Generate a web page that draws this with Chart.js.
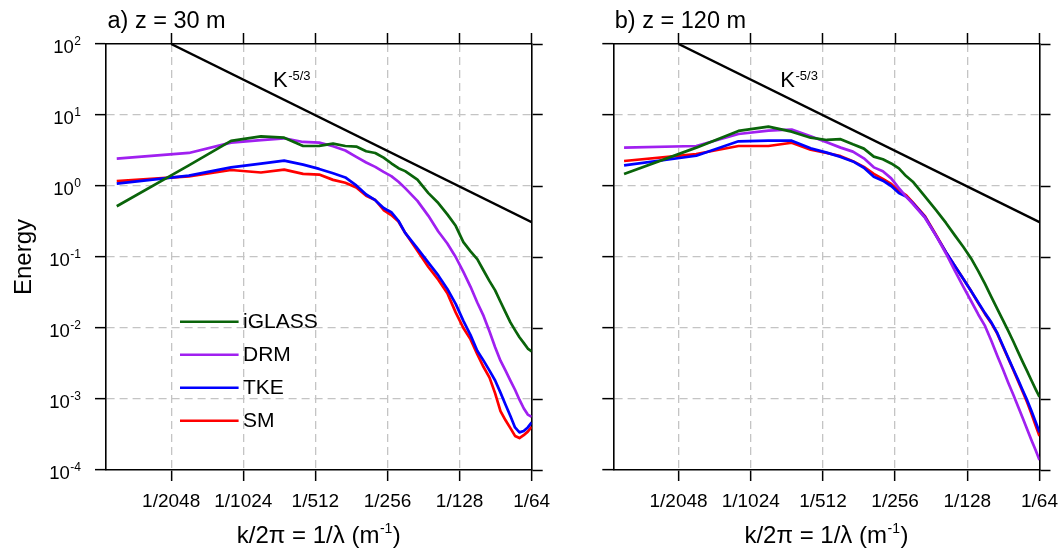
<!DOCTYPE html>
<html>
<head>
<meta charset="utf-8">
<script src="https://cdn.jsdelivr.net/npm/chart.js@4.4.1/dist/chart.umd.min.js"></script>
<style>
html,body{margin:0;padding:0;background:#fff;overflow:hidden;width:1062px;height:550px;}
canvas{position:absolute;top:0;}
#ca{left:0;}
#cb{left:560px;}
</style>
</head>
<body>
<canvas id="ca" width="560" height="550"></canvas>
<canvas id="cb" width="540" height="550"></canvas>
<script>
// ---------- data ----------
const modes = [1,2,3,4,5,6,7,8,9,10,11,12,13,14,15,16,18,20,22,24,26,28,30,32,34,36,38,40,42,44,46,48,50,52,54];
const domainLength = 3456;           // k/2pi = mode / domainLength  (m^-1)
const xTickDenoms = [2048,1024,512,256,128,64];
const xMinDenom = 3832;
const yTickExps = [-4,-3,-2,-1,0,1,2];
const seriesNames = ['iGLASS','DRM','TKE','SM'];
const seriesColors = ['#0a640a','#a020f0','#0000ff','#ff0000'];
const slopeDenoms = [2048, 64];
const slopeEnergy = [100, 0.31];

const a_iGLASS = [0.518,1.95,4.31,5.01,4.79,3.66,3.67,3.96,3.66,3.59,3.09,2.92,2.51,2.09,1.78,1.62,1.23,0.794,0.575,0.398,0.275,0.162,0.120,0.0933,0.0646,0.0457,0.0339,0.0234,0.0166,0.0120,0.00933,0.00741,0.00617,0.00513,0.00468];
const a_DRM = [2.43,2.92,4.08,4.42,4.70,4.17,4.09,3.63,3.16,2.57,2.14,1.86,1.58,1.38,1.15,0.933,0.617,0.380,0.229,0.155,0.100,0.0617,0.0380,0.0229,0.0148,0.00891,0.00537,0.00347,0.00251,0.00182,0.00135,0.000977,0.000741,0.000603,0.000562];
const a_TKE = [1.08,1.40,1.83,2.07,2.28,2.00,1.74,1.51,1.32,1.02,0.759,0.631,0.490,0.427,0.324,0.219,0.132,0.0832,0.0550,0.0355,0.0219,0.0126,0.00794,0.00479,0.00347,0.00251,0.00182,0.00123,0.000832,0.000575,0.000398,0.000339,0.000355,0.000398,0.000468];
const a_SM = [1.17,1.37,1.68,1.55,1.70,1.48,1.45,1.22,1.11,0.955,0.731,0.635,0.459,0.389,0.316,0.219,0.123,0.0724,0.0479,0.0309,0.0166,0.0100,0.00692,0.00427,0.00282,0.00200,0.00120,0.000676,0.000501,0.000389,0.000302,0.000282,0.000309,0.000347,0.000407];

const b_iGLASS = [1.48,3.47,5.96,6.85,5.82,4.79,4.45,4.57,3.86,3.36,2.59,2.38,2.08,1.77,1.38,1.15,0.708,0.457,0.302,0.200,0.138,0.0955,0.0631,0.0417,0.0275,0.0186,0.0129,0.00912,0.00646,0.00457,0.00331,0.00245,0.00182,0.00138,0.00107];
const b_DRM = [3.47,3.66,5.40,6.03,6.25,5.01,4.12,3.47,3.05,2.45,1.83,1.61,1.28,0.933,0.708,0.562,0.355,0.200,0.112,0.0631,0.0380,0.0240,0.0155,0.0107,0.00661,0.00407,0.00263,0.00170,0.00115,0.000776,0.000537,0.000372,0.000263,0.000191,0.000138];
const b_TKE = [1.95,2.67,4.26,4.35,4.35,3.39,2.95,2.57,2.22,1.81,1.35,1.19,1.00,0.794,0.708,0.575,0.363,0.200,0.117,0.0741,0.0490,0.0331,0.0229,0.0162,0.0120,0.00851,0.00562,0.00380,0.00263,0.00186,0.00132,0.000955,0.000676,0.000479,0.000339];
const b_SM = [2.25,2.82,3.66,3.66,4.07,3.24,2.92,2.63,2.24,1.86,1.48,1.26,1.07,0.851,0.741,0.589,0.372,0.204,0.117,0.0741,0.0490,0.0331,0.0224,0.0158,0.0117,0.00832,0.00550,0.00372,0.00257,0.00178,0.00126,0.000891,0.000617,0.000427,0.000302];

// ---------- styling ----------
const FONT = "'Liberation Sans', Arial, Helvetica, sans-serif";
const GRID = '#c4c4c4';
const CANVAS_H = 550;
Chart.defaults.font.family = FONT;

const panels = [
  {canvas: 'ca', title: 'a) z = 30 m', series: [a_iGLASS, a_DRM, a_TKE, a_SM],
   width: 560, left: 106, right: 531.7, top: 44, bottom: 470, yLabels: true, legend: true},
  {canvas: 'cb', title: 'b) z = 120 m', series: [b_iGLASS, b_DRM, b_TKE, b_SM],
   width: 540, left: 53.3, right: 479.5, top: 44, bottom: 470, yLabels: false, legend: false}
];

const textPlugin = {
  id: 'panelText',
  afterDraw(chart, args, opts) {
    const p = opts.panel;
    const ctx = chart.ctx;
    const ca = chart.chartArea;
    ctx.save();
    ctx.fillStyle = '#000';
    ctx.textAlign = 'left';
    ctx.textBaseline = 'alphabetic';
    // panel title
    ctx.font = '23.5px ' + FONT;
    ctx.fillText(p.title, ca.left + 1.5, 28);
    // K^-5/3 label
    const kx = ca.left + 167, ky = ca.top + 43;
    ctx.font = '22px ' + FONT;
    ctx.fillText('K', kx, ky);
    const kw = ctx.measureText('K').width;
    ctx.font = '13px ' + FONT;
    ctx.fillText('-5/3', kx + kw + 0.5, ky - 7);
    // x axis title
    const t1 = 'k/2\u03C0 = 1/\u03BB (m', t2 = '-1', t3 = ')';
    ctx.font = '24px ' + FONT;
    const w1 = ctx.measureText(t1).width, w3 = ctx.measureText(t3).width;
    ctx.font = '14px ' + FONT;
    const w2 = ctx.measureText(t2).width;
    let x0 = (ca.left + ca.right) / 2 - (w1 + w2 + w3 + 1) / 2;
    const by = 543;
    ctx.font = '24px ' + FONT;
    ctx.fillText(t1, x0, by);
    ctx.font = '14px ' + FONT;
    ctx.fillText(t2, x0 + w1 + 0.5, by - 10);
    ctx.font = '24px ' + FONT;
    ctx.fillText(t3, x0 + w1 + w2 + 1, by);
    // y tick labels and y title
    if (p.yLabels) {
      const ys = chart.scales.y;
      const rx = 81;
      yTickExps.forEach(e => {
        const y = ys.getPixelForValue(Math.pow(10, e));
        const es = e < 0 ? '-' + Math.abs(e) : String(e);
        ctx.textAlign = 'right';
        ctx.font = '12px ' + FONT;
        const ew = ctx.measureText(es).width;
        ctx.fillText(es, rx, y + 1);
        ctx.font = '18.5px ' + FONT;
        ctx.fillText('10', rx - ew - 0.5, y + 8.5);
      });
      ctx.save();
      ctx.translate(31, (ca.top + ca.bottom) / 2);
      ctx.rotate(-Math.PI / 2);
      ctx.textAlign = 'center';
      ctx.textBaseline = 'alphabetic';
      ctx.font = '24px ' + FONT;
      ctx.fillText('Energy', 0, 0);
      ctx.restore();
    }
    // legend
    if (p.legend) {
      ctx.textAlign = 'left';
      ctx.textBaseline = 'middle';
      ctx.font = '21px ' + FONT;
      seriesNames.forEach((name, i) => {
        const ly = ca.top + 277.7 + i * 33;
        ctx.beginPath();
        ctx.strokeStyle = seriesColors[i];
        ctx.lineWidth = 2.6;
        ctx.moveTo(ca.left + 74, ly);
        ctx.lineTo(ca.left + 132.6, ly);
        ctx.stroke();
        ctx.fillStyle = '#000';
        ctx.fillText(name, ca.left + 137, ly + 1);
      });
    }
    ctx.restore();
  }
};

function xTicks(s) { s.ticks = xTickDenoms.map(d => ({value: 1 / d})); }
function yTicks(s) { s.ticks = yTickExps.map(e => ({value: Math.pow(10, e)})); }

function buildPanel(p) {
  const datasets = seriesNames.map((name, i) => ({
    label: name,
    data: modes.map((n, j) => ({x: n / domainLength, y: p.series[i][j]})),
    borderColor: seriesColors[i],
    backgroundColor: seriesColors[i],
    borderWidth: 2.7,
    pointRadius: 0,
    tension: 0,
    fill: false,
    borderJoinStyle: 'round',
    order: i + 1
  }));
  datasets.push({
    label: 'K-5/3',
    data: slopeDenoms.map((d, j) => ({x: 1 / d, y: slopeEnergy[j]})),
    borderColor: '#000',
    backgroundColor: '#000',
    borderWidth: 2.4,
    pointRadius: 0,
    tension: 0,
    fill: false,
    order: 5
  });
  const tickGrid = {tickColor: '#000', tickLength: 11, tickWidth: 1.5, drawTicks: true};
  const border = {display: true, color: '#000', width: 1.6};
  const xmin = 1 / xMinDenom, xmax = 1 / xTickDenoms[xTickDenoms.length - 1];
  return new Chart(document.getElementById(p.canvas), {
    type: 'line',
    data: {datasets},
    options: {
      responsive: false,
      animation: false,
      devicePixelRatio: 1,
      layout: {padding: 0, autoPadding: false},
      plugins: {legend: {display: false}, tooltip: {enabled: false}, panelText: {panel: p}},
      scales: {
        x: {
          type: 'logarithmic', position: 'bottom', min: xmin, max: xmax,
          afterBuildTicks: xTicks,
          afterFit: s => { s.height = CANVAS_H - p.bottom; },
          ticks: {autoSkip: false, maxRotation: 0, minRotation: 0, padding: 9, color: '#000',
                  font: {family: FONT, size: 19},
                  callback: (v, i) => '1/' + xTickDenoms[i]},
          grid: Object.assign({color: c => c.index === xTickDenoms.length - 1 ? 'rgba(0,0,0,0)' : GRID,
                               lineWidth: 1.3, borderDash: [8, 5]}, tickGrid),
          border: Object.assign({dash: [8, 5]}, border)
        },
        x2: {
          type: 'logarithmic', position: 'top', axis: 'x', min: xmin, max: xmax,
          afterBuildTicks: xTicks,
          afterFit: s => { s.height = p.top; },
          ticks: {display: false},
          grid: Object.assign({drawOnChartArea: false, color: '#000'}, tickGrid),
          border: border
        },
        y: {
          type: 'logarithmic', position: 'left', min: 1e-4, max: 1e2,
          afterBuildTicks: yTicks,
          afterFit: s => { s.width = p.left; },
          ticks: {display: false},
          grid: Object.assign({color: c => (c.index === 0 || c.index === yTickExps.length - 1) ? 'rgba(0,0,0,0)' : GRID,
                               lineWidth: 1.3, borderDash: [8, 5]}, tickGrid),
          border: Object.assign({dash: [8, 5]}, border)
        },
        y2: {
          type: 'logarithmic', position: 'right', axis: 'y', min: 1e-4, max: 1e2,
          afterBuildTicks: yTicks,
          afterFit: s => { s.width = p.width - p.right; },
          ticks: {display: false},
          grid: Object.assign({drawOnChartArea: false, color: '#000'}, tickGrid),
          border: border
        }
      }
    },
    plugins: [textPlugin]
  });
}

panels.forEach(buildPanel);
</script>
</body>
</html>
